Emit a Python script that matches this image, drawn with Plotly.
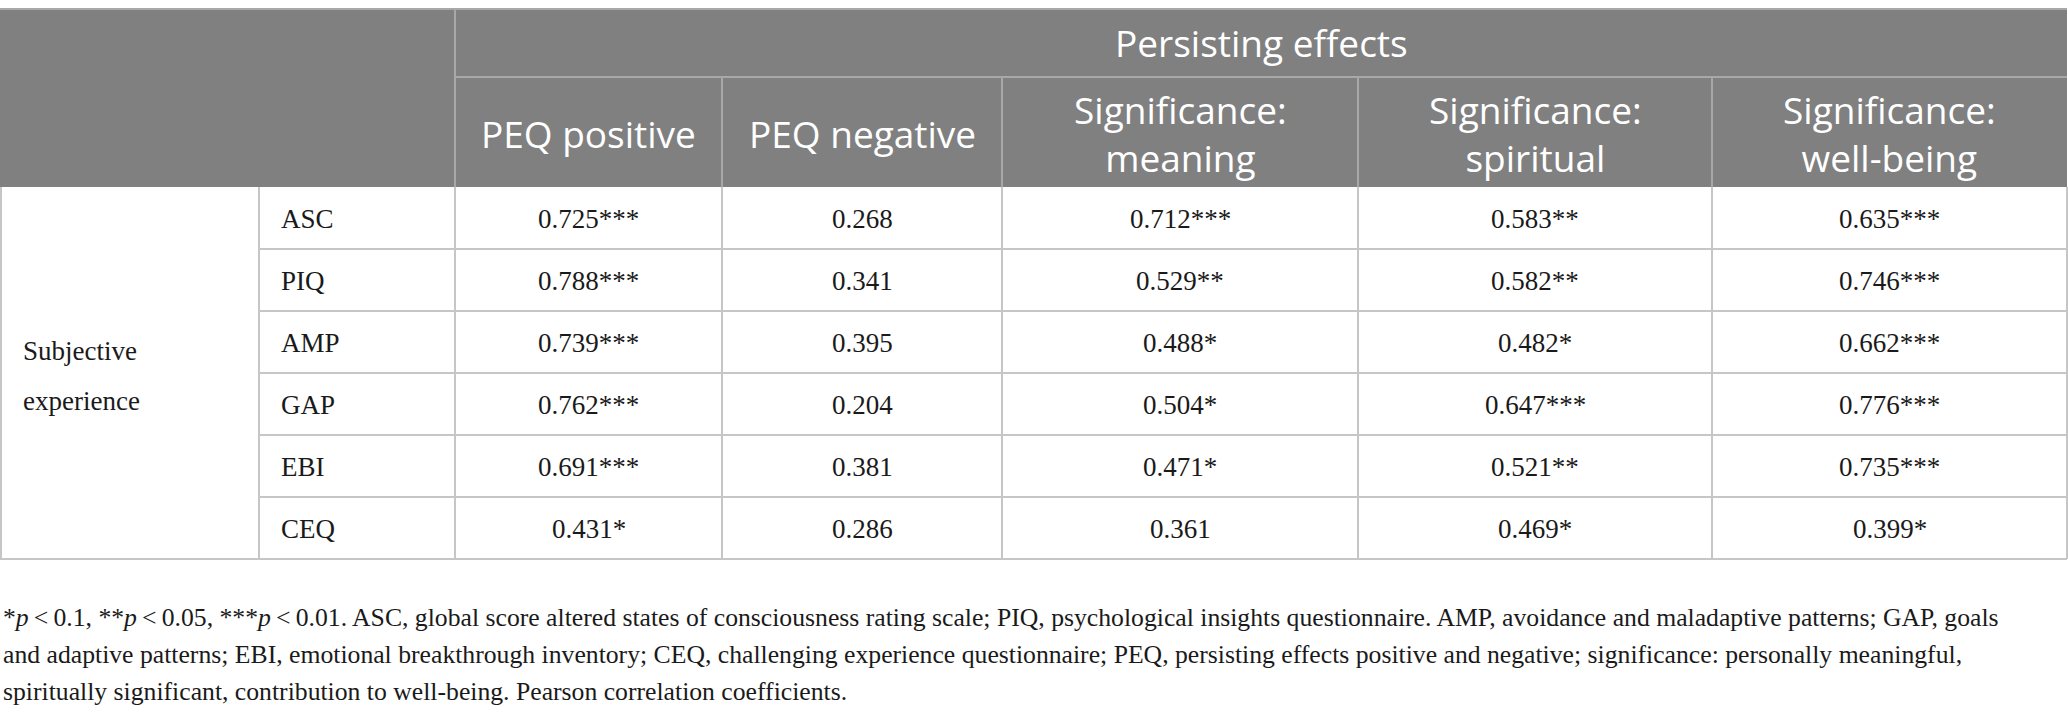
import plotly.graph_objects as go

# table content
group_label = ["Subjective", "experience"]
measures = ["ASC", "PIQ", "AMP", "GAP", "EBI", "CEQ"]
spanner = "Persisting effects"
outcomes = [
    "PEQ positive",
    "PEQ negative",
    "Significance:<br>meaning",
    "Significance:<br>spiritual",
    "Significance:<br>well-being",
]

# Pearson r per outcome, and number of significance stars
peq_positive = [0.725, 0.788, 0.739, 0.762, 0.691, 0.431]
peq_positive_stars = [3, 3, 3, 3, 3, 1]
peq_negative = [0.268, 0.341, 0.395, 0.204, 0.381, 0.286]
peq_negative_stars = [0, 0, 0, 0, 0, 0]
sig_meaning = [0.712, 0.529, 0.488, 0.504, 0.471, 0.361]
sig_meaning_stars = [3, 2, 1, 1, 1, 0]
sig_spiritual = [0.583, 0.582, 0.482, 0.647, 0.521, 0.469]
sig_spiritual_stars = [2, 2, 1, 3, 2, 1]
sig_wellbeing = [0.635, 0.746, 0.662, 0.776, 0.735, 0.399]
sig_wellbeing_stars = [3, 3, 3, 3, 3, 1]

footnote_lines = [
    "*<i>p</i>\u2009&lt;\u20090.1, **<i>p</i>\u2009&lt;\u20090.05, ***<i>p</i>\u2009&lt;\u20090.01. "
    "ASC, global score altered states of consciousness rating scale; PIQ, psychological insights "
    "questionnaire. AMP, avoidance and maladaptive patterns; GAP, goals",
    "and adaptive patterns; EBI, emotional breakthrough inventory; CEQ, challenging experience "
    "questionnaire; PEQ, persisting effects positive and negative; significance: personally meaningful,",
    "spiritually significant, contribution to well-being. Pearson correlation coefficients.",
]

columns = [
    (peq_positive, peq_positive_stars),
    (peq_negative, peq_negative_stars),
    (sig_meaning, sig_meaning_stars),
    (sig_spiritual, sig_spiritual_stars),
    (sig_wellbeing, sig_wellbeing_stars),
]

# layout of the grid (pixels)
W, H = 2068, 716
col_edges = [1, 259, 455, 722, 1002, 1358, 1712, 2067]
head_top, head_mid, head_bot = 9, 77, 187
row_h = 62
row_edges = [head_bot + i * row_h for i in range(len(measures) + 1)]
foot_y = [617, 654, 691]
group_gap = 50  # line pitch of the row-group label

header_fill = "#808080"
header_line = "#a8a8a8"
body_line = "#c6c6c6"
text_color = "#1a1a1a"
sans = "Open Sans"
serif = "Liberation Serif"

fig = go.Figure()
shapes = []
annotations = []


def line(x0, y0, x1, y1, color):
    shapes.append(dict(type="line", xref="x", yref="y", x0=x0, y0=y0, x1=x1, y1=y1,
                       line=dict(color=color, width=2), layer="above"))


def label(x, y, text, font, size, color, anchor="center", align="left"):
    annotations.append(dict(x=x, y=y, text=text, showarrow=False, xanchor=anchor,
                            yanchor="middle", align=align,
                            font=dict(family=font, size=size, color=color)))


# header block
shapes.append(dict(type="rect", xref="x", yref="y", x0=0, x1=col_edges[-1],
                   y0=head_top, y1=head_bot, fillcolor=header_fill, line=dict(width=0),
                   layer="below"))
line(0, head_top, col_edges[-1], head_top, header_line)
line(col_edges[2], head_top, col_edges[2], head_bot, header_line)
line(col_edges[2], head_mid, col_edges[-1], head_mid, header_line)
for x in col_edges[3:-1]:
    line(x, head_mid, x, head_bot, header_line)

# body grid
for y in row_edges[1:-1]:
    line(col_edges[1], y, col_edges[-1], y, body_line)
line(0, row_edges[-1], col_edges[-1], row_edges[-1], body_line)
for x in col_edges:
    line(x, head_bot, x, row_edges[-1], body_line)

# header text
label((col_edges[2] + col_edges[-1]) / 2, (head_top + head_mid) / 2 - 1, spanner,
      sans, 37, "white")
for j, name in enumerate(outcomes):
    xc = (col_edges[j + 2] + col_edges[j + 3]) / 2
    label(xc, (head_mid + head_bot) / 2 + 1, name, sans, 37, "white", align="center")

# row group + row labels
yc = (row_edges[0] + row_edges[-1]) / 2 + 3
for k, part in enumerate(group_label):
    label(col_edges[0] + 20, yc + (k - 0.5) * group_gap, part, serif, 27, text_color, "left")
for i, m in enumerate(measures):
    label(col_edges[1] + 20, (row_edges[i] + row_edges[i + 1]) / 2 + 1, m, serif, 27,
          text_color, "left")

# values
for j, (vals, stars) in enumerate(columns):
    xc = (col_edges[j + 2] + col_edges[j + 3]) / 2
    for i, (v, s) in enumerate(zip(vals, stars)):
        label(xc, (row_edges[i] + row_edges[i + 1]) / 2 + 1, f"{v:.3f}" + "*" * s,
              serif, 27, text_color)

# footnote
for k, t in enumerate(footnote_lines):
    label(1, foot_y[k], t, serif, 25.7, text_color, "left")

fig.update_layout(
    width=W,
    height=H,
    margin=dict(l=0, r=0, t=0, b=0),
    paper_bgcolor="white",
    plot_bgcolor="white",
    showlegend=False,
    xaxis=dict(range=[0, W], visible=False, fixedrange=True),
    yaxis=dict(range=[H, 0], visible=False, fixedrange=True),
    shapes=shapes,
    annotations=annotations,
)

# drop the default page margin so the figure sits at the window origin
fig.write_html("out.html", config={"displayModeBar": False},
               post_script="document.body.style.margin = '0';")
